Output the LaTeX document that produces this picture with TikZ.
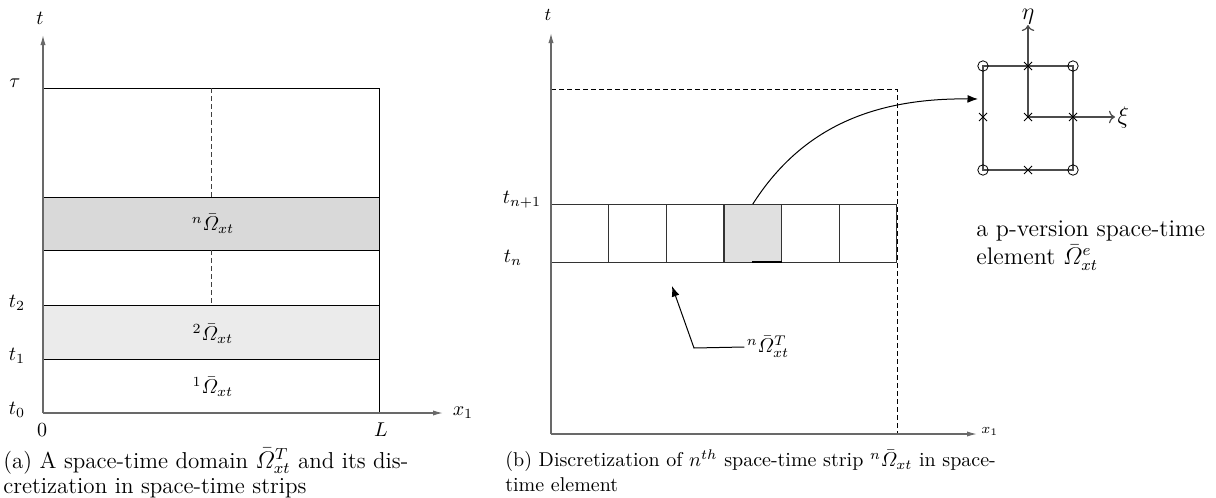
\documentclass[tikz,border=0pt]{standalone}
\usepackage{amsmath,amssymb}
\usetikzlibrary{arrows.meta,positioning,calc}
\definecolor{stripdark}{RGB}{217,217,217}
\definecolor{striplight}{RGB}{235,235,235}
\definecolor{cellgray}{RGB}{224,224,224}
\definecolor{axisgray}{RGB}{105,105,105}

\begin{document}
\begin{tikzpicture}[
  x=0.5pt, y=-0.5pt,
  >=Latex,
  axis/.style={draw=axisgray,line width=0.6pt,-{Latex[length=5pt,width=2.6pt]}},
  frame/.style={draw=black,line width=0.5pt},
  guide/.style={draw=black!75,line width=0.5pt,dash pattern=on 2.5pt off 1.5pt},
  strip/.style={draw=black,line width=0.5pt},
  cell/.style={draw=black!80,line width=0.5pt,minimum width=28.8pt,
               minimum height=29pt,inner sep=0pt,outer sep=0pt},
  lab/.style={inner sep=1pt},
  captext/.style={anchor=north west,align=left,inner sep=0pt},
  elem/.style={draw=black!70,line width=0.6pt,-{To[length=3pt]}},
  node mark/.style={draw=black,line width=0.4pt}
]
\useasboundingbox (0,0) rectangle (1216,498);

%% ── (a) space-time domain ──
\coordinate (Ao)  at (43,413);
\coordinate (At)  at (43,35);
\coordinate (Ax)  at (443,413);

\filldraw[strip,fill=stripdark]  (43,197) rectangle (379,250);
\filldraw[strip,fill=striplight] (43,305) rectangle (379,359);
\draw[frame] (43,88) -- (379,88) -- (379,413);
\draw[guide] (211,88)  -- (211,197);
\draw[guide] (211,250) -- (211,305);
\draw[axis] (Ao) -- (At);
\draw[axis] (Ao) -- (Ax);

\node[lab] (ta)   at (40,18)   {$t$};
\node[lab] (xa)   at (463,413) {$x_1$};
\node[lab] (tau)  at (15,83)   {$\tau$};
\node[lab] (t2)   at (17,303)  {$t_2$};
\node[lab] (t1)   at (17,356)  {$t_1$};
\node[lab] (t0)   at (17,410)  {$t_0$};
\node[lab] (zero) at (42,430)  {$0$};
\node[lab] (len)  at (381,430) {$L$};
\node[lab] (Sn)   at (213,224) {${}^{n}\bar{\varOmega}_{xt}$};
\node[lab] (S2)   at (213,334) {${}^{2}\bar{\varOmega}_{xt}$};
\node[lab] (S1)   at (213,387) {${}^{1}\bar{\varOmega}_{xt}$};

\node[captext,font=\fontsize{11.5}{12.5}\selectfont] (capa) at (3,448)
  {(a) A space-time domain $\bar{\varOmega}^{T}_{xt}$ and its dis-\\
   cretization in space-time strips};

%% ── (b) one strip cut into elements ──
\coordinate (Bo) at (551,434);
\coordinate (Bt) at (551,33);
\coordinate (Bx) at (977,434);

\draw[guide,draw=black] (551,89) -- (897,89) -- (897,434);
\foreach \i/\f in {0/white,1/white,2/white,3/cellgray,4/white,5/white}{
  \node[cell,fill=\f] (c\i) at ({551+57.67*(\i+0.5)},233) {};
}
\draw[line width=1.3pt] (752,262) -- (c3.south east);
\draw[axis] (Bo) -- (Bt);
\draw[axis] (Bo) -- (Bx);

\node[lab,font=\small] (tb) at (548,15) {$t$};
\node[lab,font=\scriptsize,anchor=west] (xb) at (979,431) {$x_1$};
\node[lab] (tn1) at (522,200) {$t_{n+1}$};
\node[lab] (tn)  at (513,258) {$t_n$};

%% strip label with leader
\node[lab] (ST) at (768,347) {${}^{n}\bar{\varOmega}^{T}_{xt}$};
\coordinate (bend) at (694,348);
\coordinate (aim)  at (672,286);
\draw[->,line width=0.5pt] (ST.west) -- (bend) -- (aim);

%% ── p-version element ──
\coordinate (E)  at (1028,117);
\coordinate (Ein) at (978,99);
\draw[elem,-] (983,66) rectangle (1073,170);
\draw[elem] (E) -- (1028,25) node[lab,above=-1pt,black,font=\large] (eta) {$\eta$};
\draw[elem] (E) -- (1115,117) node[lab,right,black,font=\large] (xi) {$\xi$};
\foreach \p in {(983,66),(1073,66),(983,170),(1073,170)}{
  \draw[node mark] \p circle (2.6pt);
}
\foreach \p in {(1028,66),(983,117),(1028,117),(1073,117),(1028,170)}{
  \draw[node mark] \p ++(-4,-4) -- ++(8,8) \p ++(-4,4) -- ++(8,-8);
}
\draw[->,line width=0.5pt] (c3.north) .. controls (800,130) and (870,98) .. (Ein);

\node[captext,font=\large] (cape) at (976,220)
  {a p-version space-time\\
   element $\bar{\varOmega}^{e}_{xt}$};

\node[captext,font=\fontsize{10}{12.5}\selectfont] (capb) at (505,449)
  {(b) Discretization of $n^{th}$ space-time strip ${}^{n}\bar{\varOmega}_{xt}$ in space-\\
   time element};

\end{tikzpicture}
\end{document}
